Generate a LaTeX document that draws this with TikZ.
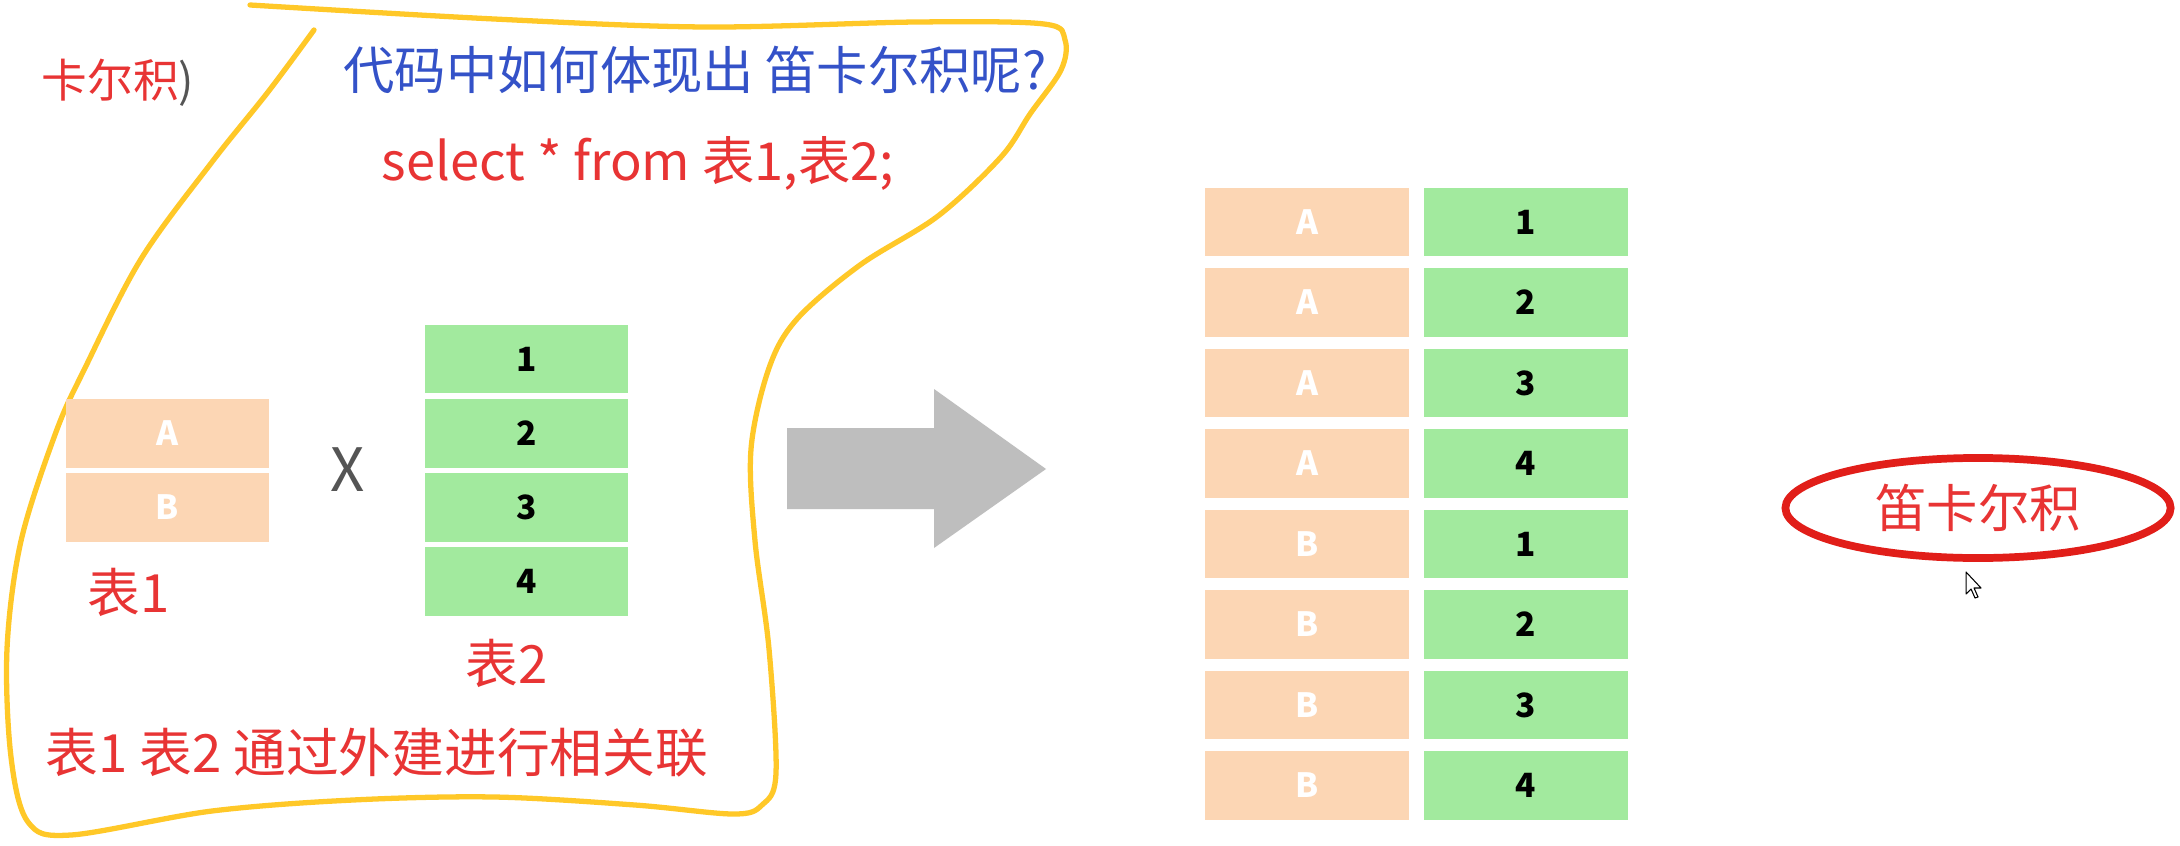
\documentclass[tikz,border=0pt]{standalone}
\usepackage{fontspec}
\usetikzlibrary{shapes.geometric}
\setmainfont{Noto Sans CJK SC}
\definecolor{peach}{RGB}{252,214,180}
\definecolor{mint}{RGB}{162,234,158}
\definecolor{arrowgray}{RGB}{190,190,190}
\definecolor{txtred}{RGB}{232,52,52}
\definecolor{txtblue}{RGB}{52,82,200}
\definecolor{hiyellow}{RGB}{255,200,40}
\definecolor{ovalred}{RGB}{225,30,25}
\definecolor{xgray}{RGB}{85,85,85}
\newcommand{\fs}[1]{\fontsize{#1}{#1}\selectfont}
\begin{document}
\begin{tikzpicture}[x=0.01cm,y=-0.01cm,
  cellA/.style={fill=peach,draw=none,inner sep=0pt,minimum width=2.03cm,minimum height=0.68cm,text=white,font=\fs{9.5pt}\bfseries},
  cellN/.style={fill=mint,draw=none,inner sep=0pt,minimum width=2.03cm,minimum height=0.68cm,text=black,font=\fs{9.5pt}\bfseries},
  redtxt/.style={text=txtred,inner sep=0pt},
]
\useasboundingbox[fill=white] (0,0) rectangle (2180,846);

% yellow freehand outline
\draw[hiyellow,line width=1.5pt,line cap=round,line join=round] plot[smooth,tension=0.55] coordinates {
 (250,5) (494,19) (705,27) (917,22) (1044,24) (1065,40) (1061,70) (1030,114) (1001,157)
 (938,216) (860,265) (797,319) (769,368) (751,449) (755,541) (769,649) (776,773)
 (762,805) (733,814) (635,805) (494,797) (353,800) (212,811) (71,835) (28,822)
 (11,757) (7,649) (21,541) (56,432) (85,368) (141,259) (212,162) (268,92) (314,30)};

% texts top
\node[redtxt,font=\fs{13pt}] (kae) at (118,83) {卡尔积\textcolor{xgray}{)}};
\node[text=txtblue,inner sep=0pt,font=\fs{14.6pt}] (q) at (695,70) {代码中如何体现出 笛卡尔积呢?};
\node[redtxt,font=\fs{14.9pt}] (sql) at (638,163) {select * from 表1,表2;};

% table 1
\node[cellA] (t1a) at (167.5,433.5) {A};
\node[cellA] (t1b) at (167.5,507.5) {B};
\node[redtxt,font=\fs{15pt}] (t1lab) at (129,592) {表1};

% times
\node[text=xgray,inner sep=0pt,font=\fs{17pt}] (times) at (348,470) {X};

% table 2
\node[cellN] (t2r1) at (526.5,359) {1};
\node[cellN] (t2r2) at (526.5,433.5) {2};
\node[cellN] (t2r3) at (526.5,507.5) {3};
\node[cellN] (t2r4) at (526.5,581.5) {4};
\node[redtxt,font=\fs{15pt}] (t2lab) at (507,663) {表2};

\node[redtxt,font=\fs{15pt}] (note) at (377,753) {表1 表2 通过外建进行相关联};

% big gray arrow
\fill[arrowgray] (787,428) -- (934,428) -- (934,389) -- (1046,469) -- (934,548) -- (934,509) -- (787,509) -- cycle;

% result table
\foreach \i/\l/\n in {0/A/1,1/A/2,2/A/3,3/A/4,4/B/1,5/B/2,6/B/3,7/B/4}{
  \node[cellA] (rl\i) at (1307,222+80.5*\i) {\l};
  \node[cellN] (rr\i) at (1526,222+80.5*\i) {\n};
}

% oval
\node[draw=ovalred,line width=2.2pt,ellipse,minimum width=3.85cm,minimum height=1.0cm,inner sep=0pt] (oval) at (1978,508) {};
\node[text=txtred,inner sep=0pt,font=\fs{14.6pt}] (ovtxt) at (oval.center) {笛卡尔积};

% mouse cursor
\draw[black,fill=white,line width=0.3pt,line join=round] (1966,572) -- (1966,594) -- (1971,589) -- (1975,598) -- (1978,597) -- (1974,588) -- (1981,588) -- cycle;
\end{tikzpicture}
\end{document}
